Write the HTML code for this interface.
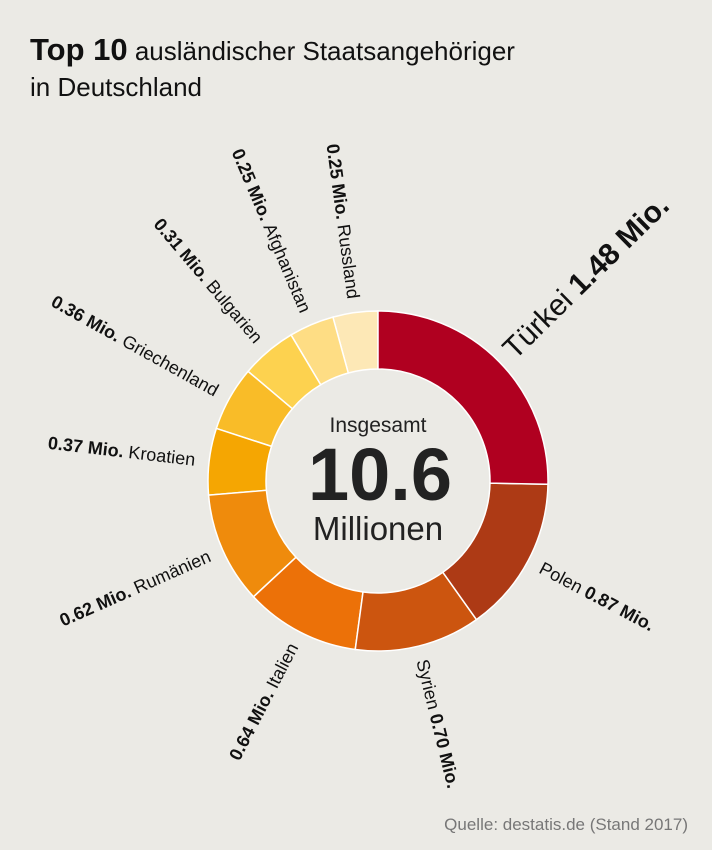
<!DOCTYPE html>
<html><head><meta charset="utf-8"><style>
body{margin:0;width:712px;height:850px;background:#ebeae5;font-family:"Liberation Sans",sans-serif;overflow:hidden;position:relative}
.t{position:absolute;left:30px;top:32px;font-size:26px;color:#111;line-height:36px}
.t b{font-size:31px}
.src{position:absolute;right:24px;top:815px;font-size:17px;color:#777}
</style></head><body>
<div class="t"><b>Top 10</b> ausländischer Staatsangehöriger<br>in Deutschland</div>
<svg id="c" width="712" height="850" style="position:absolute;left:0;top:0">
<text x="378" y="432" text-anchor="middle" font-size="21" fill="#222">Insgesamt</text>
<text x="380" y="500" text-anchor="middle" font-size="74" font-weight="bold" fill="#222">10.6</text>
<text x="378" y="540" text-anchor="middle" font-size="33" fill="#222">Millionen</text>
</svg>
<div class="src">Quelle: destatis.de (Stand 2017)</div>
<script>
const categories=["Türkei","Polen","Syrien","Italien","Rumänien","Kroatien","Griechenland","Bulgarien","Afghanistan","Russland"];
const values=[1.48,0.87,0.70,0.64,0.62,0.37,0.36,0.31,0.25,0.25];
const valueLabels=["1.48 Mio.","0.87 Mio.","0.70 Mio.","0.64 Mio.","0.62 Mio.","0.37 Mio.","0.36 Mio.","0.31 Mio.","0.25 Mio.","0.25 Mio."];
const colors=["#b00020","#ad3a15","#cc550f","#ec7108","#ef8b0c","#f5a602","#f9bc28","#fdd24f","#fedd84","#fde8b6"];
const svg=document.getElementById('c'),NS="http://www.w3.org/2000/svg";
const cx=378,cy=481,R=170,r=112,total=values.reduce((a,b)=>a+b,0);
function pt(a,rad){const t=a*Math.PI/180;return [cx+rad*Math.sin(t),cy-rad*Math.cos(t)];}
let acc=0;
values.forEach((v,i)=>{
 const a0=acc/total*360,a1=(acc+v)/total*360;acc+=v;
 const p1=pt(a0,R),p2=pt(a1,R),p3=pt(a1,r),p4=pt(a0,r),lg=(a1-a0)>180?1:0;
 const p=document.createElementNS(NS,'path');
 p.setAttribute('d',`M${p1}A${R},${R} 0 ${lg} 1 ${p2}L${p3}A${r},${r} 0 ${lg} 0 ${p4}Z`);
 p.setAttribute('fill',colors[i]);p.setAttribute('stroke','#fff');p.setAttribute('stroke-width','1.5');
 
 
 svg.insertBefore(p,svg.firstChild);
 const m=(a0+a1)/2,big=i===0,lp=pt(m,big?182:184);
 const tx=document.createElementNS(NS,'text');
 const right=m<180;
 tx.setAttribute('x',lp[0]);tx.setAttribute('y',lp[1]);
 tx.setAttribute('dominant-baseline','central');
 tx.setAttribute('text-anchor',right?'start':'end');
 tx.setAttribute('transform',`rotate(${right?m-90:m-270} ${lp[0]} ${lp[1]})`);
 tx.setAttribute('font-size',big?30:18);tx.setAttribute('fill','#111');
 
 
 const n=document.createElementNS(NS,'tspan');n.textContent=categories[i]+' ';
 const b=document.createElementNS(NS,'tspan');b.setAttribute('font-weight','bold');b.textContent=valueLabels[i];
 if(right){tx.appendChild(n);tx.appendChild(b);}else{b.textContent=valueLabels[i]+' ';n.textContent=categories[i];tx.appendChild(b);tx.appendChild(n);}
 svg.appendChild(tx);
});
</script>
</body></html>
